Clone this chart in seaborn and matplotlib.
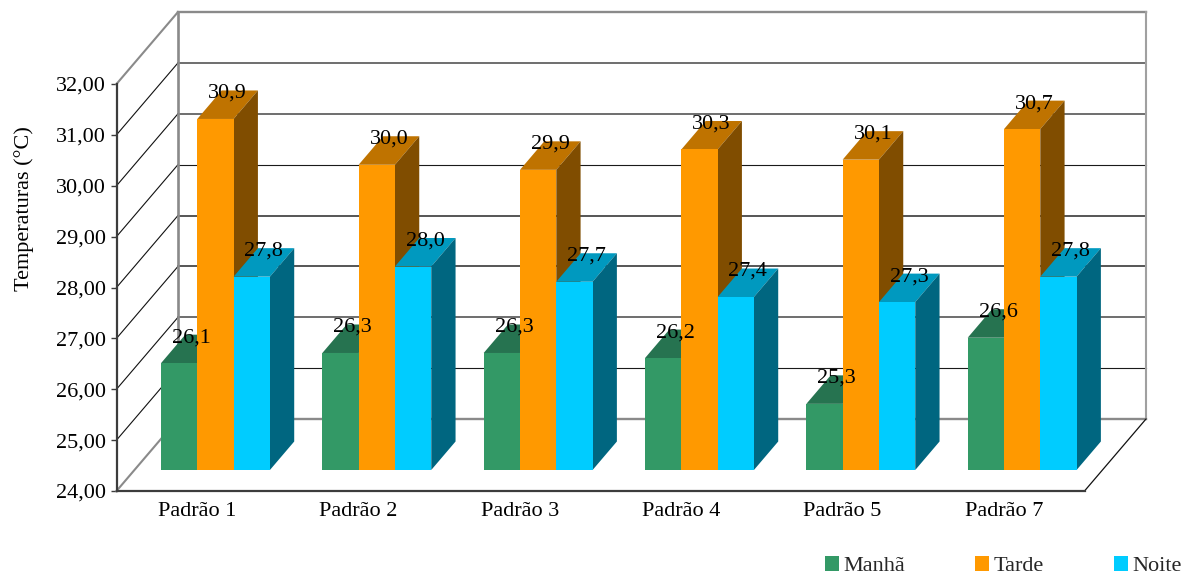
import matplotlib
matplotlib.use("Agg")
import matplotlib.pyplot as plt
from matplotlib.patches import Polygon
import pandas as pd
import seaborn as sns

# Mean temperatures per pattern and period of the day
patterns = ["Padrão 1", "Padrão 2", "Padrão 3", "Padrão 4", "Padrão 5", "Padrão 7"]
manha = [26.1, 26.3, 26.3, 26.2, 25.3, 26.6]
tarde = [30.9, 30.0, 29.9, 30.3, 30.1, 30.7]
noite = [27.8, 28.0, 27.7, 27.4, 27.3, 27.8]
periods = ["Manhã", "Tarde", "Noite"]
front_colors = ["#339966", "#FF9900", "#00CCFF"]
top_colors = ["#267350", "#BF7300", "#0099BF"]
side_colors = ["#1A4D33", "#804D00", "#006680"]

sns.set_theme(style="white")
plt.rcParams["font.family"] = ["Liberation Serif", "DejaVu Serif"]
FS = 16

W, H = 1184, 575
fig = plt.figure(figsize=(W / 100, H / 100), dpi=100)
L, R, B, T = 116.5, 1084.5, 491.0, 84.0
ax = fig.add_axes([L / W, 1 - B / H, (R - L) / W, (B - T) / H])

df = pd.DataFrame({
    "Padrão": patterns * 3,
    "Período": sum([[p] * len(patterns) for p in periods], []),
    "Temperatura": manha + tarde + noite,
})
sns.barplot(data=df, x="Padrão", y="Temperatura", hue="Período", hue_order=periods,
            order=patterns, palette=front_colors, saturation=1, width=0.675, gap=0,
            errorbar=None, linewidth=0, ax=ax)
ax.set_xlim(-0.5, 5.5)
ax.set_ylim(24, 32)

# Pseudo-3D depth expressed in data units
px_x = (R - L) / 6
px_y = (B - T) / 8
WALL_X, WALL_Y = 61.5 / px_x, 72 / px_y      # back wall offset
BAR_X, BAR_Y = 18.3 / px_x, 21 / px_y        # bar front plane offset
DEP_X, DEP_Y = 24.3 / px_x, 28.5 / px_y      # bar depth

GRAY = "#8A8A8A"
DARK = "#3C3C3C"

# Line weight of each back-wall gridline
grid_styles = {
    25: ("#1A1A1A", 0.8), 26: ("#6E6E6E", 1.4), 27: ("#484848", 1.3), 28: ("#484848", 1.3),
    29: ("#1A1A1A", 0.8), 30: ("#6E6E6E", 1.4), 31: ("#6E6E6E", 1.4),
}


def line(xs, ys, color, lw, z=1):
    ax.plot(xs, ys, color=color, lw=lw, clip_on=False, zorder=z, solid_capstyle="projecting")


x0, x1 = -0.5, 5.5
# Gridlines on the back wall and the left wall
for v, (grid_color, grid_lw) in grid_styles.items():
    line([x0 + WALL_X, x1 + WALL_X], [v + WALL_Y] * 2, grid_color, grid_lw, 1.1)
    line([x0, x0 + WALL_X], [v, v + WALL_Y], "#111111", 0.8, 1.1)
# Wall and floor outlines
line([x0 + WALL_X, x1 + WALL_X], [32 + WALL_Y] * 2, GRAY, 1.7, 1.2)
line([x0 + WALL_X, x1 + WALL_X], [24 + WALL_Y] * 2, GRAY, 1.7, 1.2)
line([x0 + WALL_X] * 2, [24 + WALL_Y, 32 + WALL_Y], GRAY, 1.9, 1.2)
line([x1 + WALL_X] * 2, [24 + WALL_Y, 32 + WALL_Y], "#A0A0A0", 1.5, 1.2)
line([x0, x0 + WALL_X], [32, 32 + WALL_Y], GRAY, 1.5, 1.2)
line([x0, x0 + WALL_X], [24, 24 + WALL_Y], GRAY, 1.5, 1.2)
line([x1, x1 + WALL_X], [24, 24 + WALL_Y], "#111111", 0.9, 1.2)

# Shift the bars onto their own plane and add the top and side faces
for j, (container, values) in enumerate(zip(ax.containers, [manha, tarde, noite])):
    z = 3 + 2 * j
    for bar, val in zip(container, values):
        left = bar.get_x() + BAR_X
        width = bar.get_width()
        base = 24 + BAR_Y
        top = base + (val - 24)
        bar.set_x(left)
        bar.set_y(base)
        bar.set_height(val - 24)
        bar.set_zorder(z + 0.5)
        bar.set_clip_on(False)
        ax.add_patch(Polygon(
            [(left, top), (left + width, top),
             (left + width + DEP_X, top + DEP_Y), (left + DEP_X, top + DEP_Y)],
            facecolor=top_colors[j], edgecolor="none", zorder=z, clip_on=False))
        ax.add_patch(Polygon(
            [(left + width, base), (left + width + DEP_X, base + DEP_Y),
             (left + width + DEP_X, top + DEP_Y), (left + width, top)],
            facecolor=side_colors[j], edgecolor="none", zorder=z, clip_on=False))
        ax.text(left + width / 2 + DEP_X / 2, top + DEP_Y - 3 / px_y,
                f"{val:.1f}".replace(".", ","),
                ha="center", va="center", fontsize=FS, color="black", zorder=20, clip_on=False)

# Axes and tick styling
sns.despine(ax=ax, top=True, right=True)
for side in ("left", "bottom"):
    ax.spines[side].set_color(DARK)
    ax.spines[side].set_linewidth(1.6)
    ax.spines[side].set_zorder(2)
ax.set_yticks(range(24, 33))
ax.set_yticklabels([f"{v},00" for v in range(24, 33)], fontsize=FS, color="black")
ax.tick_params(axis="y", left=True, length=4.5, width=1.0, color=DARK, pad=3.2)
ax.tick_params(axis="x", bottom=False, labelsize=FS, labelcolor="black", pad=2)
ax.set_xlabel("")
ax.set_ylabel("")
fig.text(24 / W, 1 - 209 / H, "Temperaturas (°C)", rotation=90, ha="center", va="center",
         fontsize=16, color="black")

# Legend along the lower right edge
handles, labels = ax.get_legend_handles_labels()
ax.legend(handles, labels, ncol=3, frameon=False, fontsize=FS, loc="lower right",
          bbox_to_anchor=(1182 / W, 1 - 576 / H), bbox_transform=fig.transFigure,
          borderpad=0, borderaxespad=0, handlelength=0.64, handleheight=0.68,
          handletextpad=0.2, columnspacing=3.15)

fig.savefig("out.png", dpi=100, facecolor="white")
